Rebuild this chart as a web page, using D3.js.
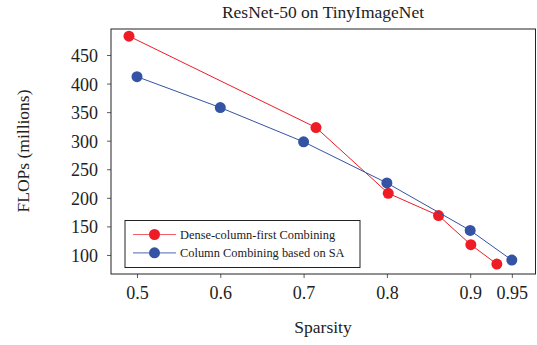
<!DOCTYPE html>
<html>
<head>
<meta charset="utf-8">
<script src="https://cdn.jsdelivr.net/npm/d3@7"></script>
<style>
  body { margin: 0; background: #fff; }
  svg text { font-family: "Liberation Serif", "DejaVu Serif", serif; fill: #222; }
</style>
</head>
<body>
<svg id="chart" width="537" height="345"></svg>
<script>
// Sparsity vs FLOPs for two column-combining strategies
const denseFirstSparsity = [0.4904, 0.7149, 0.8016, 0.862, 0.9008, 0.932];
const denseFirstFlops    = [483, 323, 208, 169, 118, 84];
const saSparsity = [0.5, 0.6, 0.7, 0.8, 0.9, 0.95];
const saFlops    = [412, 358, 298, 226, 143, 91];

const xTicks = [0.5, 0.6, 0.7, 0.8, 0.9, 0.95];
const yTicks = [100, 150, 200, 250, 300, 350, 400, 450];

const seriesNames = ["Dense-column-first Combining", "Column Combining based on SA"];
const seriesColors = ["#ee1c25", "#3453a4"];

const serif = "'Liberation Serif', 'DejaVu Serif', serif";

const svg = d3.select("#chart");
const plotLeft = 111, plotRight = 536, plotTop = 29, plotBottom = 274;

const x = d3.scaleLinear().domain([0.4688, 0.979]).range([plotLeft, plotRight]);
const y = d3.scaleLinear().domain([66.7, 495.5]).range([plotBottom, plotTop]);

// Axes
const xAxis = svg.append("g")
  .attr("transform", `translate(0,${plotBottom})`)
  .call(d3.axisBottom(x).tickValues(xTicks).tickSize(4).tickPadding(8)
    .tickFormat(d => String(d)));
const yAxis = svg.append("g")
  .attr("transform", `translate(${plotLeft},0)`)
  .call(d3.axisLeft(y).tickValues(yTicks).tickSize(4).tickPadding(9));

[xAxis, yAxis].forEach(g => {
  g.attr("font-family", null).attr("font-size", null);
  g.select(".domain").remove();
  g.selectAll(".tick line").attr("stroke", "#333").attr("stroke-width", 0.8);
  g.selectAll(".tick text")
    .style("font-family", serif).style("font-size", "18px").style("fill", "#222");
});
yAxis.selectAll(".tick text").attr("dy", "0.36em");

// Frame
svg.append("rect")
  .attr("x", plotLeft).attr("y", plotTop)
  .attr("width", plotRight - plotLeft - 0.5).attr("height", plotBottom - plotTop)
  .attr("fill", "none").attr("stroke", "#222").attr("stroke-width", 1);

const series = [
  { xs: denseFirstSparsity, ys: denseFirstFlops },
  { xs: saSparsity, ys: saFlops }
];

const line = d3.line().x(d => x(d[0])).y(d => y(d[1]));

series.forEach((s, i) => {
  const pts = s.xs.map((v, j) => [v, s.ys[j]]);
  svg.append("path").datum(pts)
    .attr("d", line).attr("fill", "none")
    .attr("stroke", seriesColors[i]).attr("stroke-width", 1);
  svg.append("g").selectAll("circle").data(pts).join("circle")
    .attr("cx", d => x(d[0])).attr("cy", d => y(d[1])).attr("r", 5.5)
    .attr("fill", seriesColors[i]);
});

// Legend
const lg = svg.append("g");
lg.append("rect").attr("x", 125).attr("y", 220.5).attr("width", 235).attr("height", 47)
  .attr("fill", "#fff").attr("stroke", "#222").attr("stroke-width", 1);
seriesNames.forEach((name, i) => {
  const yy = 234.5 + i * 18.3;
  lg.append("line").attr("x1", 133).attr("x2", 176).attr("y1", yy).attr("y2", yy)
    .attr("stroke", seriesColors[i]).attr("stroke-width", 1.2).attr("opacity", 0.7);
  lg.append("circle").attr("cx", 154.5).attr("cy", yy).attr("r", 5.5).attr("fill", seriesColors[i]);
  lg.append("text").attr("x", 180).attr("y", yy + 4).style("font-size", "12.4px").text(name);
});

// Titles
svg.append("text").attr("x", 323).attr("y", 18).attr("text-anchor", "middle")
  .style("font-size", "17.5px").text("ResNet-50 on TinyImageNet");
svg.append("text").attr("x", 323).attr("y", 333).attr("text-anchor", "middle")
  .style("font-size", "17.5px").text("Sparsity");
svg.append("text").attr("transform", "translate(29,151) rotate(-90)")
  .attr("text-anchor", "middle").style("font-size", "17.5px").text("FLOPs (millions)");
</script>
</body>
</html>
